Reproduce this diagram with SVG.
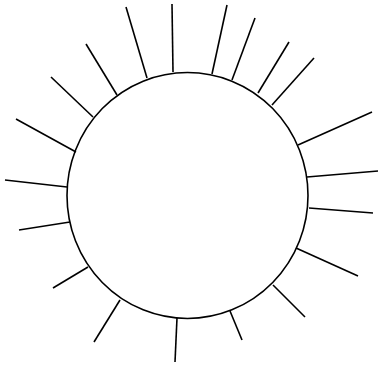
<svg xmlns="http://www.w3.org/2000/svg" width="380" height="365" viewBox="0 0 380 365">
<style>
.s{fill:none;stroke:#000;stroke-width:1.6;stroke-linecap:butt}
</style>
<rect width="380" height="365" fill="#fff"/>
<g id="ring">
<ellipse class="s" cx="187.5" cy="195.5" rx="120.5" ry="123"/>
</g>
<g id="spokes" class="s">
<line x1="126" y1="7" x2="147" y2="78"/>
<line x1="172" y1="4" x2="173" y2="72"/>
<line x1="227" y1="5" x2="212" y2="74"/>
<line x1="255" y1="18" x2="232" y2="80"/>
<line x1="289" y1="42" x2="258" y2="93"/>
<line x1="314" y1="58" x2="272" y2="105"/>
<line x1="372" y1="112" x2="298" y2="145"/>
<line x1="378" y1="171" x2="307" y2="177"/>
<line x1="373" y1="213" x2="309" y2="208"/>
<line x1="358" y1="276" x2="296" y2="248"/>
<line x1="305" y1="317" x2="273" y2="285"/>
<line x1="242" y1="340" x2="230" y2="311"/>
<line x1="175" y1="362" x2="177" y2="318"/>
<line x1="94" y1="342" x2="120" y2="300"/>
<line x1="53" y1="288" x2="88" y2="267"/>
<line x1="19" y1="230" x2="70" y2="222"/>
<line x1="5" y1="180" x2="67" y2="187"/>
<line x1="16" y1="119" x2="76" y2="152"/>
<line x1="51" y1="77" x2="93" y2="117"/>
<line x1="86" y1="44" x2="117" y2="95"/>
</g>
</svg>
